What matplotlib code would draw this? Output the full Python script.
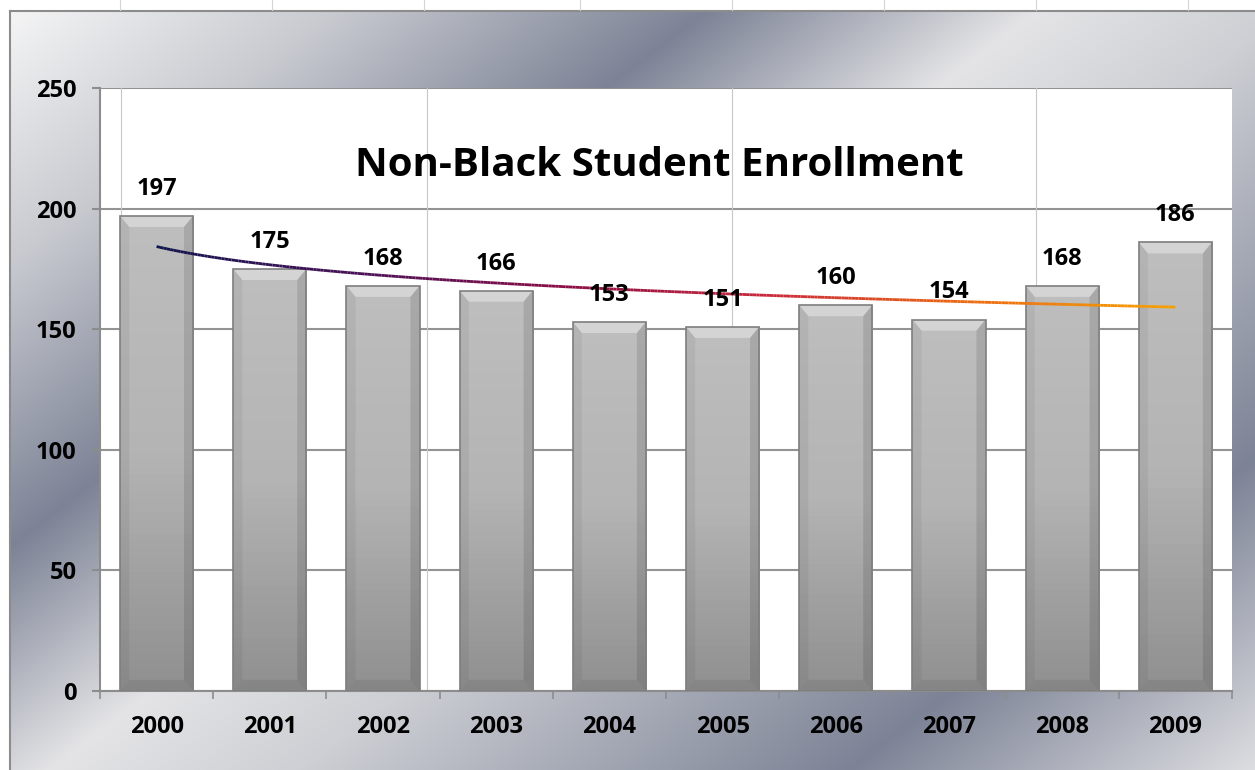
import numpy as np
import matplotlib
matplotlib.use("Agg")
import matplotlib.pyplot as plt
from matplotlib.collections import LineCollection
from matplotlib.colors import LinearSegmentedColormap
from matplotlib.lines import Line2D
from matplotlib.patches import Polygon
from matplotlib.transforms import blended_transform_factory

years = ["2000", "2001", "2002", "2003", "2004", "2005", "2006", "2007", "2008", "2009"]
enrollment = [197, 175, 168, 166, 153, 151, 160, 154, 168, 186]
y_ticks = [0, 50, 100, 150, 200, 250]
title = "Non-Black Student Enrollment"

plt.rcParams['font.family'] = ['Open Sans', 'DejaVu Sans']

W, H = 1255, 770
fig = plt.figure(figsize=(W / 100, H / 100), dpi=100)
fig.patch.set_facecolor("white")

# silver chart-area fill (diagonal banded gradient)
bg = fig.add_axes([10 / W, 0, 1 - 10 / W, 1 - 11 / H], zorder=0)
xx, yy = np.meshgrid(np.arange(10, W), np.arange(11, H))
t = xx + 1.3 * yy
t_stops = [0, 350, 720, 1050, 1300, 1850, 2300]
rgb_stops = np.array([
    [248, 248, 248],
    [200, 202, 208],
    [125, 131, 150],
    [228, 228, 230],
    [205, 207, 212],
    [125, 131, 150],
    [232, 232, 234],
]) / 255.0
img = np.dstack([np.interp(t, t_stops, rgb_stops[:, c]) for c in range(3)])
bg.imshow(img, aspect="auto", interpolation="bilinear")
bg.set_axis_off()

# chart border and sheet cell lines above it
fig.add_artist(Line2D([10 / W, 1], [1 - 11 / H] * 2, color="#8c8c8c", lw=1.5, zorder=1))
fig.add_artist(Line2D([10 / W] * 2, [0, 1 - 11 / H], color="#8c8c8c", lw=1.5, zorder=1))
for px in [120, 272, 424, 580, 732, 884, 1036, 1188]:
    fig.add_artist(Line2D([px / W] * 2, [1 - 10 / H, 1], color="#d4d4d4", lw=0.8, zorder=1))

ax = fig.add_axes([100 / W, 79 / H, 1132 / W, 603 / H], zorder=2)
ax.set_facecolor("white")
x = np.arange(len(years))

# faint sheet lines showing through the plot area
tr = blended_transform_factory(fig.transFigure, ax.transAxes)
for px in [121, 427, 732, 1036]:
    ax.add_line(Line2D([px / W] * 2, [0, 1], transform=tr, color="#c8c8c8", lw=0.8, zorder=1))

ax.set_yticks(y_ticks)
ax.yaxis.grid(True, color="#939393", lw=1.5, zorder=1)
ax.set_axisbelow(True)

# bars with a vertical shade and a chamfered bevel
bw = 0.645
dx, dy = 0.08, 4.6
bars = ax.bar(x, enrollment, width=bw, color="none", edgecolor="#7e7e7e", lw=1.2, zorder=4)
shade = np.linspace(0, 1, 64).reshape(-1, 1)
cmap_bar = LinearSegmentedColormap.from_list("bar", ["#bebebe", "#b4b4b4", "#909090"])
for i, (bar, v) in enumerate(zip(bars, enrollment)):
    x0, x1 = bar.get_x(), bar.get_x() + bar.get_width()
    im = ax.imshow(shade, cmap=cmap_bar, extent=[x0, x1, 0, v], aspect="auto",
                   origin="upper", zorder=3)
    im.set_clip_path(bar)
    ax.add_patch(Polygon([(x0, v), (x1, v), (x1 - dx, v - dy), (x0 + dx, v - dy)],
                         closed=True, fc="white", alpha=0.35, lw=0, zorder=3.5))
    ax.add_patch(Polygon([(x0, v), (x0 + dx, v - dy), (x0 + dx, dy), (x0, 0)],
                         closed=True, fc="black", alpha=0.05, lw=0, zorder=3.5))
    ax.add_patch(Polygon([(x1, v), (x1 - dx, v - dy), (x1 - dx, dy), (x1, 0)],
                         closed=True, fc="black", alpha=0.11, lw=0, zorder=3.5))
    ax.add_patch(Polygon([(x0, 0), (x1, 0), (x1 - dx, dy), (x0 + dx, dy)],
                         closed=True, fc="black", alpha=0.07, lw=0, zorder=3.5))
    ax.annotate(str(v), (i, v), xytext=(0, 19.5), textcoords="offset points",
                ha="center", va="center", fontsize=17, fontweight="bold", zorder=6)

# logarithmic trendline
b, a = np.polyfit(np.log(x + 1), enrollment, 1)
xs = np.linspace(0, len(years) - 1, 300)
ys = a + b * np.log(xs + 1)
pts = np.column_stack([xs, ys]).reshape(-1, 1, 2)
segs = np.concatenate([pts[:-1], pts[1:]], axis=1)
cmap_trend = LinearSegmentedColormap.from_list(
    "trend", ["#10144e", "#4a1056", "#8a0c44", "#c8283a", "#ec6a10", "#f6a000"])
lc = LineCollection(segs, cmap=cmap_trend, lw=2, zorder=5)
lc.set_array(xs[:-1])
ax.add_collection(lc)

ax.set_xlim(-0.5, len(years) - 0.5)
ax.set_ylim(0, 250)

ax.set_xticks(x)
ax.set_xticklabels(years, fontsize=17, fontweight="bold")
ax.set_xticks(np.arange(-0.5, len(years)), minor=True)
ax.tick_params(axis="x", which="major", length=0, pad=17)
ax.tick_params(axis="x", which="minor", length=6, width=1.2, color="#8c8c8c")
ax.tick_params(axis="y", length=6, width=1.5, color="#8c8c8c", pad=11, labelsize=17)
for lab in ax.get_yticklabels():
    lab.set_fontweight("bold")

for side in ["top", "right"]:
    ax.spines[side].set_visible(False)
for side in ["left", "bottom"]:
    ax.spines[side].set_color("#8c8c8c")
    ax.spines[side].set_linewidth(1.5)

ax.text(0.494, 0.872, title, transform=ax.transAxes, ha="center", va="center",
        fontsize=29, fontweight="bold", zorder=6)

fig.savefig("out.png", dpi=100)
